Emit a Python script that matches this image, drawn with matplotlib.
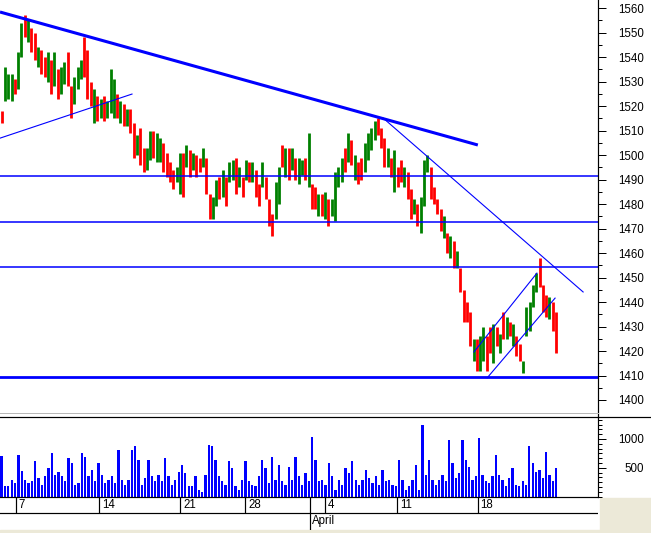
import numpy as np
import matplotlib
matplotlib.use("Agg")
import matplotlib.pyplot as plt
from matplotlib.lines import Line2D
from matplotlib.patches import Rectangle
from matplotlib.ticker import MultipleLocator, FixedLocator

W, H = 651, 533

# hourly bars: high, low, and bar colour (g = up, r = down)
highs = [1518, 1536, 1533, 1533, 1531, 1542, 1554, 1557, 1555, 1552,
         1550, 1544, 1543, 1540, 1542, 1539, 1542, 1535, 1536, 1538,
         1542, 1528, 1532, 1536, 1539, 1548, 1543, 1530, 1527, 1524,
         1523, 1524, 1522, 1535, 1531, 1525, 1522, 1521, 1519, 1519,
         1513, 1508, 1511, 1503, 1503, 1510, 1510, 1509, 1507, 1505,
         1501, 1497, 1494, 1495, 1501, 1501, 1504, 1502, 1501, 1500,
         1499, 1503, 1499, 1484, 1483, 1490, 1491, 1494, 1491, 1497,
         1498, 1499, 1495, 1491, 1498, 1497, 1497, 1494, 1488, 1497,
         1491, 1482, 1476, 1489, 1495, 1504, 1503, 1503, 1503, 1499,
         1499, 1498, 1499, 1509, 1488, 1487, 1484, 1484, 1485, 1482,
         1482, 1493, 1495, 1499, 1503, 1509, 1506, 1500, 1497, 1499,
         1505, 1509, 1511, 1514, 1515, 1511, 1507, 1503, 1499, 1502,
         1495, 1498, 1495, 1493, 1486, 1482, 1480, 1483, 1498, 1500,
         1495, 1487, 1482, 1478, 1475, 1468, 1467, 1465, 1461, 1454,
         1445, 1440, 1436, 1425, 1425, 1426, 1430, 1426, 1430, 1431,
         1430, 1427, 1436, 1434, 1432, 1431, 1426, 1423, 1416, 1438,
         1440, 1447, 1452, 1458, 1447, 1443, 1442, 1440, 1436]
lows = [1513, 1522, 1523, 1522, 1525, 1527, 1540, 1548, 1546, 1542,
        1539, 1536, 1533, 1532, 1530, 1525, 1528, 1523, 1525, 1529,
        1528, 1515, 1521, 1527, 1531, 1532, 1523, 1520, 1513, 1514,
        1515, 1514, 1515, 1517, 1515, 1515, 1513, 1512, 1512, 1509,
        1499, 1500, 1496, 1493, 1494, 1498, 1499, 1497, 1497, 1493,
        1491, 1489, 1486, 1489, 1484, 1483, 1495, 1491, 1494, 1491,
        1493, 1495, 1484, 1474, 1474, 1479, 1482, 1483, 1479, 1489,
        1490, 1484, 1487, 1483, 1490, 1489, 1489, 1483, 1479, 1487,
        1482, 1471, 1467, 1474, 1480, 1495, 1491, 1490, 1494, 1490,
        1488, 1492, 1490, 1487, 1478, 1478, 1475, 1475, 1474, 1471,
        1475, 1473, 1487, 1489, 1493, 1497, 1496, 1490, 1488, 1490,
        1493, 1498, 1502, 1506, 1508, 1503, 1495, 1495, 1491, 1485,
        1487, 1489, 1487, 1482, 1474, 1476, 1471, 1468, 1479, 1493,
        1482, 1480, 1476, 1469, 1466, 1460, 1458, 1454, 1454, 1444,
        1432, 1432, 1422, 1416, 1412, 1412, 1416, 1412, 1419, 1415,
        1422, 1419, 1425, 1425, 1426, 1422, 1418, 1416, 1411, 1426,
        1428, 1438, 1444, 1446, 1436, 1434, 1433, 1428, 1419]
colours = ("rgggrggrgr" "rgrrgrgrgg" "rrgggrrrgr" "grgggrgrgr" "rgrrggrggr"
           "rrrggrgrgr" "rgrrggrgrg" "grgrgrgrrg" "rrrggrgrgr" "ggrgrrgrgr"
           "ggggrgrgrr" "ggggrrrgrg" "rrgrrgrggg" "rrrrgrgrgr" "rrrgrggrrg"
           "rgrgrgrrgg" "gggrrrgrr")

volumes = [700, 180, 180, 290, 230, 720, 450, 290, 235, 265,
           610, 320, 205, 350, 495, 750, 380, 435, 350, 265,
           665, 580, 205, 235, 750, 695, 350, 465, 265, 580,
           380, 235, 290, 350, 235, 810, 290, 205, 290, 810,
           870, 640, 205, 320, 640, 350, 265, 380, 265, 665,
           350, 205, 290, 435, 550, 410, 180, 180, 350, 120,
           90, 380, 900, 870, 640, 350, 265, 205, 610, 495,
           180, 120, 290, 610, 265, 205, 180, 350, 640, 495,
           235, 695, 290, 550, 265, 205, 520, 290, 695, 350,
           205, 410, 265, 1040, 640, 265, 290, 205, 580,
           350, 120, 290, 205, 495, 410, 610, 290, 205, 290,
           465, 320, 235, 350, 205, 465, 265, 290, 205, 180,
           640, 290, 120, 180, 290, 550, 120, 1240, 380, 640,
           290, 205, 290, 380, 265, 980, 580, 320, 410, 980,
           640, 520, 290, 350, 1010, 380, 265, 235, 350, 725,
           380, 290, 180, 320, 495, 205, 180, 265, 205, 870,
           580, 435, 465, 320, 780, 380, 265, 495]

# trendlines as (bar, price) end points
main_trend = [(-0.5, 1558.4), (144.3, 1504.1)]
thin_trends = [
    [(-0.5, 1506.9), (39.5, 1524.9)],
    [(115.6, 1515.1), (176.2, 1444.1)],
    [(143.1, 1419.6), (162.2, 1451.8)],
    [(147.1, 1409.0), (167.7, 1441.6)],
]
levels = [1491.6, 1472.5, 1454.2]
support = 1409.5

day_ticks = [4.4, 29.6, 54.1, 73.8, 98.1, 119.9, 144.3]
day_labels = ["7", "14", "21", "28", "4", "11", "18"]
month_start = 93.4
month_name = "April"

plt.rcParams["font.family"] = ["Liberation Sans", "DejaVu Sans"]
plt.rcParams["font.size"] = 8.3

BLUE = "#0000ff"
PX = 72.0 / 100  # one pixel in points


def box(x0, y0, x1, y1):
    # pixel box, origin top left -> figure rect
    return [x0 / W, 1 - y1 / H, (x1 - x0) / W, (y1 - y0) / H]


fig = plt.figure(figsize=(W / 100, H / 100), dpi=100)
ax = fig.add_axes(box(0, 0, 598.3, 412))
axv = fig.add_axes(box(0, 417.3, 598.3, 496.7), sharex=ax)
axd = fig.add_axes(box(0, 496.7, 598.3, 529.5), sharex=ax)

# price bars
x = np.arange(len(highs))
bar_cols = ["#008000" if c == "g" else "#ff0000" for c in colours]
ax.vlines(x, lows, highs, colors=bar_cols, linewidth=2.0)

# lines
(a, b) = main_trend
ax.plot([a[0], b[0]], [a[1], b[1]], color=BLUE, lw=2.2, solid_capstyle="butt")
for p, q in thin_trends:
    ax.plot([p[0], q[0]], [p[1], q[1]], color=BLUE, lw=0.8)
for lv in levels:
    ax.axhline(lv, color=BLUE, lw=1.1)
ax.axhline(support, color=BLUE, lw=2.0)

ax.set_xlim(-0.5, 180.8)
ax.set_ylim(1395.1, 1563.3)
for s in ax.spines.values():
    s.set_visible(False)
ax.tick_params(axis="x", which="both", bottom=False, labelbottom=False)
ax.yaxis.tick_right()
ax.yaxis.set_major_locator(MultipleLocator(10))
ax.yaxis.set_minor_locator(MultipleLocator(5))
ax.tick_params(axis="y", which="major", length=8 * PX, width=PX, pad=27.4, colors="black")
ax.tick_params(axis="y", which="minor", length=4 * PX, width=PX)
plt.setp(ax.get_yticklabels(), ha="right")

# volume
xv = np.linspace(0, len(highs) - 1, len(volumes))
axv.bar(xv, volumes, width=0.7, color=BLUE, linewidth=0)
axv.set_ylim(0, 1375)
for k in ["left", "right"]:
    axv.spines[k].set_visible(False)
for k in ["top", "bottom"]:
    axv.spines[k].set_linewidth(PX * 1.2)
axv.tick_params(axis="x", which="both", bottom=False, labelbottom=False)
axv.yaxis.tick_right()
axv.yaxis.set_major_locator(FixedLocator([500, 1000]))
axv.yaxis.set_minor_locator(MultipleLocator(500 / 6))
axv.tick_params(axis="y", which="major", length=8 * PX, width=PX, pad=27.4, colors="black")
axv.tick_params(axis="y", which="minor", length=4 * PX, width=PX)
plt.setp(axv.get_yticklabels(), ha="right")

# date rows
axd.set_ylim(0, 2)
axd.set_axis_off()
axd.axhline(1, color="black", lw=PX * 1.2)
axd.vlines(day_ticks, 1, 2, color="black", lw=PX * 1.2)
axd.vlines([month_start], 0, 2, color="black", lw=PX * 1.2)
for t, lab in zip(day_ticks, day_labels):
    axd.annotate(lab, (t, 1.5), xytext=(2, 0), textcoords="offset points",
                 ha="left", va="center", fontsize=8.3)
axd.annotate(month_name, (month_start, 0.5), xytext=(1.5, 0), textcoords="offset points",
             ha="left", va="center", fontsize=8.3)

# frame bits outside the axes
fig.add_artist(Line2D([598.3 / W] * 2, [1, 1 - 496.7 / H], color="black", lw=PX * 1.2))
fig.add_artist(Line2D([598.3 / W, 1], [1 - 417.3 / H] * 2, color="black", lw=PX * 1.2))
fig.add_artist(Line2D([0, 598.3 / W], [1 - 412.5 / H] * 2, color="#b8b8b8", lw=PX))
fig.add_artist(Rectangle((599.5 / W, 0), 1 - 599.5 / W, 1 - 498.3 / H,
                         transform=fig.transFigure, color="#ece9d8", zorder=-1))
fig.add_artist(Rectangle((0, 0), 1, 1 - 529.8 / H,
                         transform=fig.transFigure, color="#ece9d8", zorder=-1))

fig.savefig("out.png", dpi=100)
